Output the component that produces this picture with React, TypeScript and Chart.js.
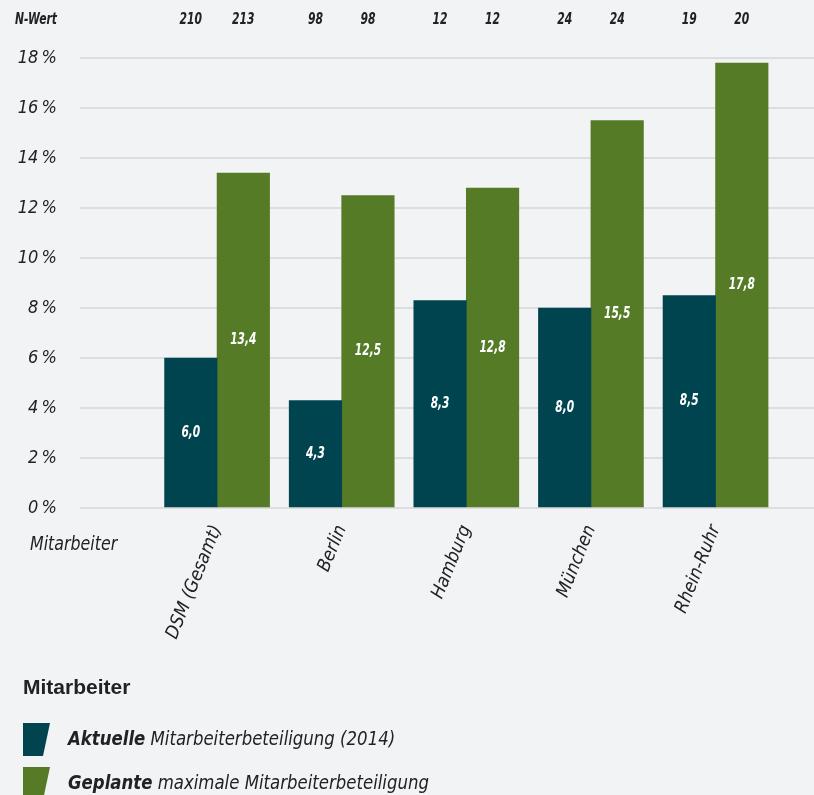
import React, { useEffect, useRef } from "react";
import { Chart, registerables } from "chart.js";

Chart.register(...registerables);

const categories = ["DSM (Gesamt)", "Berlin", "Hamburg", "München", "Rhein-Ruhr"];
const currentValues = [6.0, 4.3, 8.3, 8.0, 8.5];
const plannedValues = [13.4, 12.5, 12.8, 15.5, 17.8];
const nCurrent = [210, 98, 12, 24, 19];
const nPlanned = [213, 98, 12, 24, 20];
const yTicks = [0, 2, 4, 6, 8, 10, 12, 14, 16, 18];
const legendTitle = "Mitarbeiter";
const axisTitle = "Mitarbeiter";
const nLabel = "N-Wert";
const legendItems = [
  { bold: "Aktuelle", rest: " Mitarbeiterbeteiligung (2014)" },
  { bold: "Geplante", rest: " maximale Mitarbeiterbeteiligung" },
];

const TEAL = "#00444f";
const GREEN = "#557b27";
const BG = "#f2f3f5";
const GRID = "#dcdde0";
const TEXT = "#222222";
const FONT = '"Liberation Sans Narrow", "DejaVu Sans Condensed", "Liberation Sans", sans-serif';
const FONT_PLAIN = '"Liberation Sans", Arial, sans-serif';

const fmt = (v: number) => v.toFixed(1).replace(".", ",");

function drawText(
  ctx: CanvasRenderingContext2D,
  text: string,
  x: number,
  y: number,
  font: string,
  align: CanvasTextAlign,
  sx: number
) {
  ctx.save();
  ctx.font = font;
  ctx.textAlign = align;
  ctx.textBaseline = "middle";
  ctx.translate(x, y);
  ctx.scale(sx, 1);
  ctx.fillText(text, 0, 0);
  const w = ctx.measureText(text).width * sx;
  ctx.restore();
  return w;
}

export default function App() {
  const ref = useRef<HTMLCanvasElement>(null);

  useEffect(() => {
    if (!ref.current) return;
    const overlay = {
      id: "overlay",
      beforeDraw(chart: any) {
        const { ctx, width, height } = chart;
        ctx.save();
        ctx.fillStyle = BG;
        ctx.fillRect(0, 0, width, height);
        ctx.restore();
      },
      afterDatasetsDraw(chart: any) {
        const ctx = chart.ctx;
        ctx.save();
        // values inside bars
        ctx.fillStyle = "#ffffff";
        chart.data.datasets.forEach((ds: any, di: number) => {
          const meta = chart.getDatasetMeta(di);
          meta.data.forEach((el: any, i: number) => {
            drawText(ctx, fmt(ds.data[i].y), el.x, (el.y + el.base) / 2, `italic bold 16px ${FONT}`, "center", 0.74);
          });
        });
        // N-Wert row
        ctx.fillStyle = TEXT;
        const nSets = [nCurrent, nPlanned];
        chart.data.datasets.forEach((_ds: any, di: number) => {
          const meta = chart.getDatasetMeta(di);
          meta.data.forEach((el: any, i: number) => {
            drawText(ctx, String(nSets[di][i]), el.x, 20, `italic bold 15px ${FONT}`, "center", 0.8);
          });
        });
        drawText(ctx, nLabel, 57, 20, `italic bold 15px ${FONT}`, "right", 0.8);
        // axis title
        drawText(ctx, axisTitle, 30, 545, `italic 20px ${FONT}`, "left", 0.88);
        // legend
        drawText(ctx, legendTitle, 23, 688, `bold 21px ${FONT_PLAIN}`, "left", 1);
        const colors = [TEAL, GREEN];
        const tops = [723, 767];
        legendItems.forEach((it, i) => {
          const t = tops[i];
          ctx.fillStyle = colors[i];
          ctx.beginPath();
          ctx.moveTo(23, t);
          ctx.lineTo(50, t);
          ctx.lineTo(43, t + 33);
          ctx.lineTo(23, t + 33);
          ctx.closePath();
          ctx.fill();
          ctx.fillStyle = TEXT;
          const w = drawText(ctx, it.bold, 68, t + 17, `italic bold 20px ${FONT}`, "left", 0.92);
          drawText(ctx, it.rest, 68 + w, t + 17, `italic 20px ${FONT}`, "left", 0.92);
        });
        ctx.restore();
      },
    };

    const chart = new Chart(ref.current, {
      type: "bar",
      data: {
        datasets: [
          {
            label: legendItems[0].bold,
            data: currentValues.map((v, i) => ({ x: i, y: v })),
            backgroundColor: TEAL,
            barThickness: 52.5,
          },
          {
            label: legendItems[1].bold,
            data: plannedValues.map((v, i) => ({ x: i, y: v })),
            backgroundColor: GREEN,
            barThickness: 52.5,
          },
        ],
      },
      options: {
        animation: false,
        responsive: true,
        maintainAspectRatio: false,
        layout: { padding: { top: 58, left: 0, right: 0, bottom: 0 } },
        plugins: { legend: { display: false }, tooltip: { enabled: false } },
        scales: {
          x: {
            type: "linear",
            offset: false,
            min: -1.1,
            max: 4.79,
            grid: { display: false, offset: false },
            border: { display: false },
            afterFit: (s: any) => {
              s.height = 287;
            },
            ticks: {
              stepSize: 1,
              includeBounds: false,
              autoSkip: false,
              minRotation: 68,
              maxRotation: 68,
              padding: 6,
              color: TEXT,
              font: { family: FONT, size: 18.5, style: "italic" },
              callback: (v: any) => {
                const n = Number(v);
                return Number.isInteger(n) && n >= 0 && n < categories.length ? categories[n] : "";
              },
            },
          },
          y: {
            min: 0,
            max: 18,
            afterFit: (s: any) => {
              s.width = 80;
            },
            afterBuildTicks: (s: any) => {
              s.ticks = yTicks.map((v) => ({ value: v }));
            },
            grid: { color: GRID, lineWidth: 2, drawTicks: false },
            border: { display: false },
            ticks: {
              padding: 23,
              color: TEXT,
              font: { family: FONT, size: 18, style: "italic" },
              callback: (v: any) => `${v}\u2009%`,
            },
          },
        },
      },
      plugins: [overlay],
    } as any);
    return () => chart.destroy();
  }, []);

  return (
    <div style={{ position: "fixed", left: 0, top: 0, width: 814, height: 795 }}>
      <canvas ref={ref} />
    </div>
  );
}
